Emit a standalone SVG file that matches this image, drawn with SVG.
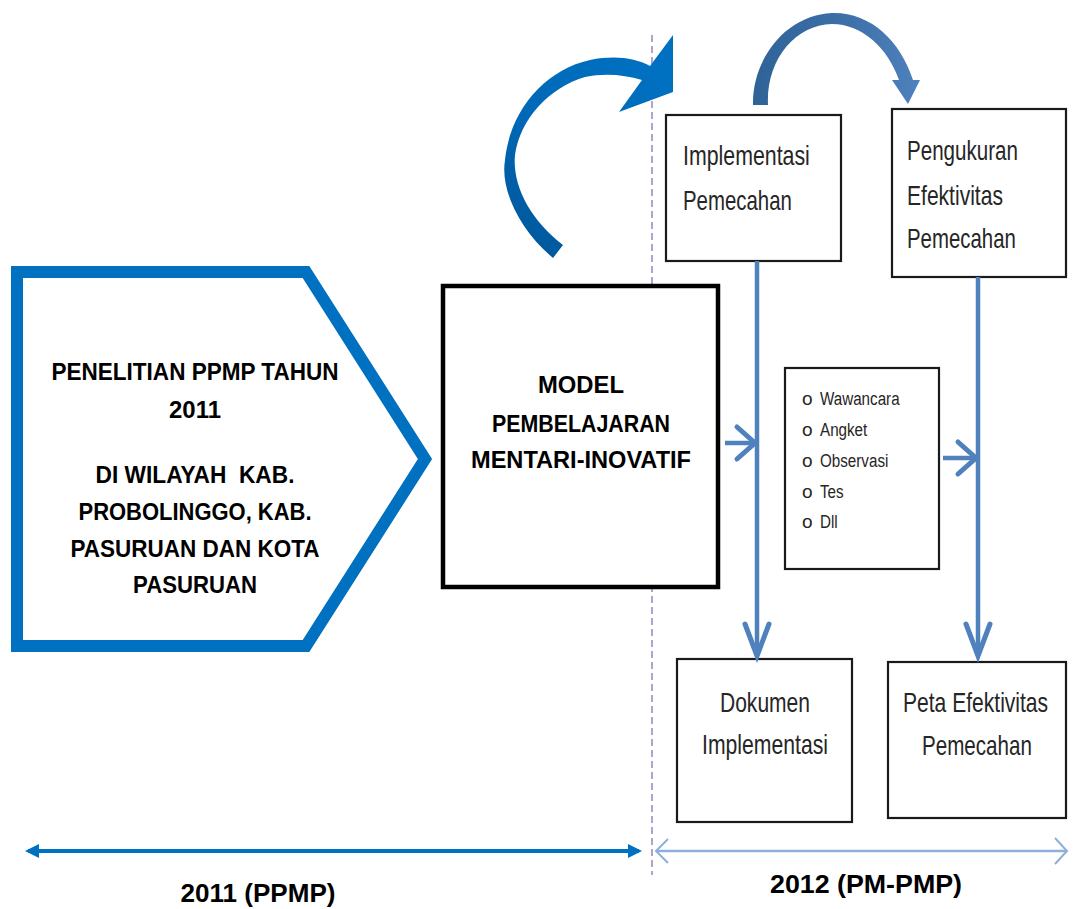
<svg xmlns="http://www.w3.org/2000/svg" width="1073" height="909" viewBox="0 0 1073 909">
<defs>
<style>
.bold{font-family:"Liberation Sans",Arial,sans-serif;font-weight:bold;fill:#000;text-anchor:middle}
.cal{font-family:"Liberation Sans",Arial,sans-serif;fill:#262626;font-size:27px}
.lst{font-family:"Liberation Sans",Arial,sans-serif;fill:#262626;font-size:19px}
.box{fill:#fff;stroke:#1a1a1a;stroke-width:2.2}
.conn{stroke:#4F81BD;stroke-width:4.5;fill:none;stroke-linecap:butt}
.chev{stroke:#4F81BD;stroke-width:5;fill:none;stroke-linejoin:miter;stroke-linecap:round}
</style>
<linearGradient id="g1" x1="0" y1="1" x2="0.6" y2="0">
<stop offset="0" stop-color="#005496"/>
<stop offset="0.5" stop-color="#0068B6"/>
<stop offset="1" stop-color="#0070C0"/>
</linearGradient>
<linearGradient id="g2" x1="0" y1="0" x2="1" y2="0">
<stop offset="0" stop-color="#2F6398"/>
<stop offset="0.5" stop-color="#3B6EA5"/>
<stop offset="1" stop-color="#4F81BD"/>
</linearGradient>
<marker id="tri" markerWidth="14" markerHeight="14" refX="11" refY="7" orient="auto-start-reverse" markerUnits="userSpaceOnUse">
<path d="M0,0 L14,7 L0,14 Z" fill="#0070C0"/>
</marker>
</defs>
<rect width="1073" height="909" fill="#fff"/>

<!-- divider -->
<line x1="652" y1="35" x2="652" y2="875" stroke="#9C8DC4" stroke-width="1.6" stroke-dasharray="7,4"/>

<g id="node-penelitian">
<polygon points="17,272 306,272 425,459 306,646 17,646" fill="#fff" stroke="#0070C0" stroke-width="12"/>
<text class="bold" font-size="23" x="195" y="380" textLength="287" lengthAdjust="spacingAndGlyphs">PENELITIAN PPMP TAHUN</text>
<text class="bold" font-size="23" x="195" y="418" textLength="52" lengthAdjust="spacingAndGlyphs">2011</text>
<text class="bold" font-size="23" x="195" y="483" textLength="199" lengthAdjust="spacingAndGlyphs" xml:space="preserve">DI WILAYAH  KAB.</text>
<text class="bold" font-size="23" x="195" y="520" textLength="233" lengthAdjust="spacingAndGlyphs">PROBOLINGGO, KAB.</text>
<text class="bold" font-size="23" x="195" y="557" textLength="249" lengthAdjust="spacingAndGlyphs">PASURUAN DAN KOTA</text>
<text class="bold" font-size="23" x="195" y="593" textLength="124" lengthAdjust="spacingAndGlyphs">PASURUAN</text>
</g>

<g id="node-model">
<rect x="443" y="286" width="275" height="301" fill="#fff" stroke="#000" stroke-width="4.5"/>
<text class="bold" font-size="23" x="581" y="393" textLength="86" lengthAdjust="spacingAndGlyphs">MODEL</text>
<text class="bold" font-size="23" x="581" y="432" textLength="178" lengthAdjust="spacingAndGlyphs">PEMBELAJARAN</text>
<text class="bold" font-size="23" x="581" y="468" textLength="220" lengthAdjust="spacingAndGlyphs">MENTARI-INOVATIF</text>
</g>

<g id="node-implementasi">
<rect class="box" x="666" y="115" width="175" height="146"/>
<text class="cal" transform="translate(683,165) scale(0.79,1)">Implementasi</text>
<text class="cal" transform="translate(683,210) scale(0.756,1)">Pemecahan</text>
</g>

<g id="node-pengukuran">
<rect class="box" x="892" y="109" width="174" height="168"/>
<text class="cal" transform="translate(907,160) scale(0.762,1)">Pengukuran</text>
<text class="cal" transform="translate(907,205) scale(0.78,1)">Efektivitas</text>
<text class="cal" transform="translate(907,248) scale(0.756,1)">Pemecahan</text>
</g>

<g id="node-metode">
<rect class="box" x="785" y="368" width="154" height="201"/>
<text class="lst" x="802" y="405">o</text>
<text class="lst" x="802" y="436">o</text>
<text class="lst" x="802" y="467">o</text>
<text class="lst" x="802" y="498">o</text>
<text class="lst" x="802" y="528">o</text>
<text class="lst" transform="translate(820,405) scale(0.8,1)">Wawancara</text>
<text class="lst" transform="translate(820,436) scale(0.8,1)">Angket</text>
<text class="lst" transform="translate(820,467) scale(0.8,1)">Observasi</text>
<text class="lst" transform="translate(820,498) scale(0.8,1)">Tes</text>
<text class="lst" transform="translate(820,528) scale(0.8,1)">Dll</text>
</g>

<g id="node-dokumen">
<rect class="box" x="677" y="659" width="175" height="163"/>
<text class="cal" transform="translate(720,712) scale(0.779,1)">Dokumen</text>
<text class="cal" transform="translate(702,754) scale(0.785,1)">Implementasi</text>
</g>

<g id="node-peta">
<rect class="box" x="888" y="662" width="178" height="156"/>
<text class="cal" transform="translate(903,712) scale(0.78,1)">Peta Efektivitas</text>
<text class="cal" transform="translate(922,755) scale(0.763,1)">Pemecahan</text>
</g>

<g id="connectors">
<!-- curved arrow 1 -->
<path d="M553,258 C520,230 500,190 505,160 C510,110 545,70 590,60 C615,55 635,58 650,66 L673,35 L673,92 L619,112 L642,80 C625,75 605,73 585,77 C548,88 520,120 515,155 C512,185 530,220 563,245 Z" fill="url(#g1)"/>
<!-- curved arrow 2 -->
<path d="M753,105 C752,60 785,15 832,13 C870,12 900,40 913,80 L920,80 L908,104 L892,80 L899,80 C888,48 862,24 832,24 C795,25 766,60 768,105 Z" fill="url(#g2)"/>
<!-- vertical flows -->
<line class="conn" x1="757" y1="261" x2="757" y2="656"/>
<polyline class="chev" points="745,624 757,656 769,624"/>
<line class="conn" x1="978" y1="277" x2="978" y2="656"/>
<polyline class="chev" points="966,624 978,656 990,624"/>
<!-- horizontal arrows -->
<line class="conn" x1="725" y1="443" x2="755" y2="443"/>
<polyline class="chev" points="737,427 755,443 737,459"/>
<line class="conn" x1="943" y1="458" x2="976" y2="458"/>
<polyline class="chev" points="958,442 976,458 958,474"/>
<!-- timeline -->
<line x1="28" y1="851" x2="639" y2="851" stroke="#0070C0" stroke-width="4" marker-start="url(#tri)" marker-end="url(#tri)"/>
<line x1="656" y1="851" x2="1067" y2="851" stroke="#8DB0DA" stroke-width="2.5"/>
<polyline points="668,839 656,851 668,863" fill="none" stroke="#8DB0DA" stroke-width="2"/>
<polyline points="1055,838 1067,851 1055,864" fill="none" stroke="#8DB0DA" stroke-width="2"/>
</g>

<g id="labels">
<text class="bold" font-size="25" x="258" y="902" textLength="155" lengthAdjust="spacingAndGlyphs">2011 (PPMP)</text>
<text class="bold" font-size="25" x="866" y="893" textLength="192" lengthAdjust="spacingAndGlyphs">2012 (PM-PMP)</text>
</g>
</svg>
